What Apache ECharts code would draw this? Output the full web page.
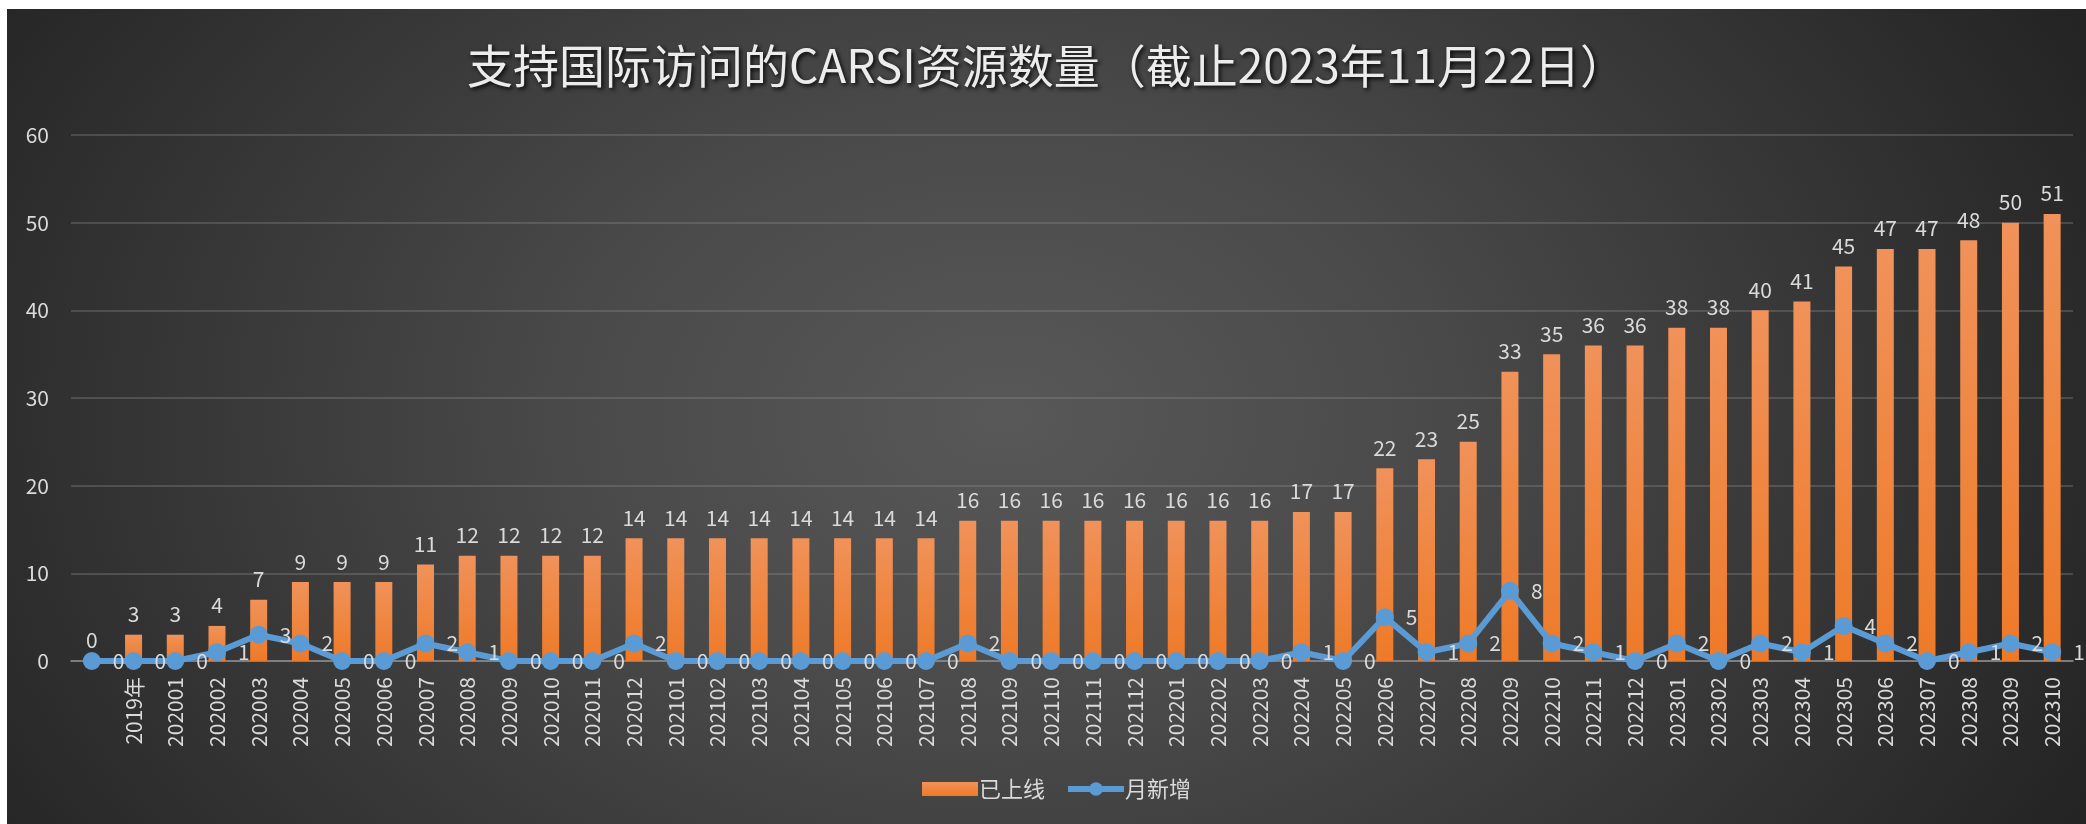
<!DOCTYPE html>
<html>
<head>
<meta charset="utf-8">
<script src="https://cdn.jsdelivr.net/npm/echarts@6/dist/echarts.min.js"></script>
<style>
  html, body { margin: 0; padding: 0; background: #ffffff; width: 2086px; height: 824px; overflow: hidden; }
  #chart {
    position: absolute; left: 7px; top: 9px; width: 2079px; height: 815px;
    background: radial-gradient(ellipse 58% 105% at 48% 50%, #585858 0%, #4a4a4a 35%, #242424 100%);
  }
</style>
</head>
<body>
<div id="chart"></div>
<script>
const titleText = '支持国际访问的CARSI资源数量（截止2023年11月22日）';
const seriesNames = ['已上线', '月新增'];
const categories = ['', '2019年',
  '202001','202002','202003','202004','202005','202006','202007','202008','202009','202010','202011','202012',
  '202101','202102','202103','202104','202105','202106','202107','202108','202109','202110','202111','202112',
  '202201','202202','202203','202204','202205','202206','202207','202208','202209','202210','202211','202212',
  '202301','202302','202303','202304','202305','202306','202307','202308','202309','202310'];
const onlineCounts = [0, 3,
  3, 4, 7, 9, 9, 9, 11, 12, 12, 12, 12, 14,
  14, 14, 14, 14, 14, 14, 14, 16, 16, 16, 16, 16,
  16, 16, 16, 17, 17, 22, 23, 25, 33, 35, 36, 36,
  38, 38, 40, 41, 45, 47, 47, 48, 50, 51];
const monthlyNew = [0, 0,
  0, 1, 3, 2, 0, 0, 2, 1, 0, 0, 0, 2,
  0, 0, 0, 0, 0, 0, 0, 2, 0, 0, 0, 0,
  0, 0, 0, 1, 0, 5, 1, 2, 8, 2, 1, 0,
  2, 0, 2, 1, 4, 2, 0, 1, 2, 1];
const yMin = 0, yMax = 60, yInterval = 10;

const font = '"Noto Sans CJK SC", "Noto Sans", sans-serif';
const textColor = '#dadada';

const chart = echarts.init(document.getElementById('chart'), null, { renderer: 'canvas' });
chart.setOption({
  backgroundColor: 'transparent',
  animation: false,
  textStyle: { fontFamily: font },
  title: {
    text: titleText,
    left: 'center',
    top: 29,
    textStyle: {
      fontFamily: font, fontSize: 46, fontWeight: 'normal', color: '#ececec',
      textShadowColor: 'rgba(0,0,0,0.9)', textShadowBlur: 4, textShadowOffsetX: 2, textShadowOffsetY: 2
    }
  },
  legend: {
    data: [
      { name: seriesNames[0], icon: 'path://M0,0 L52,0 L52,13 L0,13 Z' },
      { name: seriesNames[1] }
    ],
    left: 910,
    top: 764,
    itemWidth: 56,
    itemHeight: 17,
    itemGap: 20,
    lineStyle: { width: 6 },
    textStyle: { color: textColor, fontSize: 22, fontFamily: font, padding: [0, 0, 0, -4] }
  },
  grid: { left: 64, right: 13, top: 126, bottom: 163, containLabel: false },
  xAxis: {
    type: 'category',
    data: categories,
    boundaryGap: true,
    axisTick: { show: false },
    axisLine: { lineStyle: { color: '#8f8f8f', width: 1.5 } },
    axisLabel: { rotate: 90, interval: 0, color: textColor, fontSize: 21, margin: 16, fontFamily: font }
  },
  yAxis: {
    type: 'value',
    min: yMin, max: yMax, interval: yInterval,
    axisLine: { show: false },
    axisTick: { show: false },
    axisLabel: { color: textColor, fontSize: 21, margin: 22, fontFamily: font },
    splitLine: { lineStyle: { color: 'rgba(140,140,140,0.45)', width: 1.5 } }
  },
  series: [
    {
      name: seriesNames[0],
      type: 'bar',
      data: onlineCounts,
      barWidth: 17,
      itemStyle: {
        color: new echarts.graphic.LinearGradient(0, 0, 0, 1, [
          { offset: 0, color: '#f0925a' },
          { offset: 1, color: '#ee7a28' }
        ])
      },
      label: { show: true, position: 'top', distance: 10, color: textColor, fontSize: 21, fontFamily: font }
    },
    {
      name: seriesNames[1],
      type: 'line',
      data: monthlyNew,
      symbol: 'circle',
      symbolSize: 18,
      z: 5,
      lineStyle: { color: '#5b9bd5', width: 6 },
      itemStyle: { color: '#5b9bd5' },
      label: { show: true, position: 'right', distance: 12, color: textColor, fontSize: 21, fontFamily: font }
    }
  ]
});
</script>
</body>
</html>
